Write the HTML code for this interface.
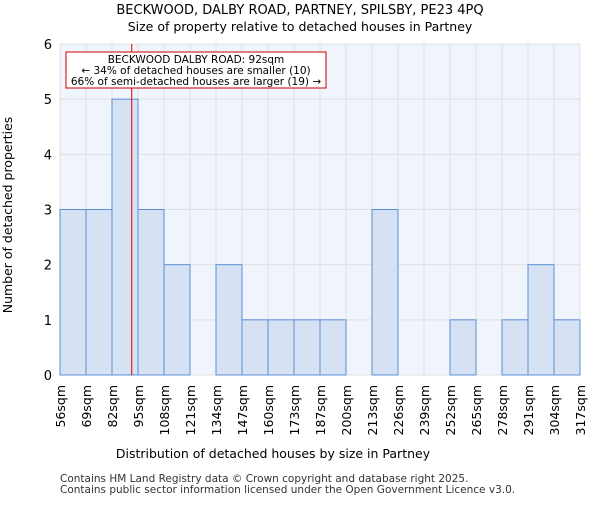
<!DOCTYPE html>
<html><head><meta charset="utf-8"><style>body{margin:0;background:#fff}svg{font-family:"DejaVu Sans","Liberation Sans",sans-serif}</style></head>
<body>
<svg id="c" width="600" height="500" xmlns="http://www.w3.org/2000/svg">
<text x="300" y="14" font-size="13" text-anchor="middle">BECKWOOD, DALBY ROAD, PARTNEY, SPILSBY, PE23 4PQ</text>
<text x="300" y="31" font-size="12.5" text-anchor="middle">Size of property relative to detached houses in Partney</text>
<g id="plot"></g>
<text x="273" y="458" font-size="12.5" text-anchor="middle">Distribution of detached houses by size in Partney</text>
<text transform="translate(12,215) rotate(-90)" font-size="12.5" text-anchor="middle">Number of detached properties</text>
<text x="60" y="482" font-size="10.5" fill="#333">Contains HM Land Registry data © Crown copyright and database right 2025.</text>
<text x="60" y="493" font-size="10.5" fill="#333">Contains public sector information licensed under the Open Government Licence v3.0.</text>
</svg>
<script>
const tickLabels=["56sqm","69sqm","82sqm","95sqm","108sqm","121sqm","134sqm","147sqm","160sqm","173sqm","187sqm","200sqm","213sqm","226sqm","239sqm","252sqm","265sqm","278sqm","291sqm","304sqm","317sqm"];
const counts=[3,3,5,3,2,0,2,1,1,1,1,0,3,0,0,1,0,1,2,1];
const yTicks=[0,1,2,3,4,5,6];
const xMin=56,xMax=317,subject=92;
const L=60,R=580,T=44,B=375,yMax=6;
const ns="http://www.w3.org/2000/svg";
const g=document.getElementById('plot');
function el(t,a){const e=document.createElementNS(ns,t);for(const k in a)e.setAttribute(k,a[k]);g.appendChild(e);return e;}
const n=counts.length,bw=(R-L)/n;
const xi=i=>L+i*bw, xv=v=>L+(v-xMin)/(xMax-xMin)*(R-L), y=v=>B-v/yMax*(B-T);
const bg=el('rect',{x:L,y:T,width:R-L,height:B-T,fill:'#f0f4fc'});


for(const t of yTicks){
 const l=el('line',{x1:L,x2:R,y1:y(t),y2:y(t),stroke:'#e0e0e0'});
 
 
 const tx=el('text',{x:L-8,y:y(t)+5,'font-size':13,'text-anchor':'end'});tx.textContent=t;
 
 
}
for(let i=0;i<=n;i++){
 const l=el('line',{x1:xi(i),x2:xi(i),y1:T,y2:B,stroke:'#e0e0e0'});
 
 
}
counts.forEach((c,i)=>{
 if(c<=0)return;
 const r=el('rect',{x:xi(i),y:y(c),width:bw,height:y(0)-y(c),fill:'#d6e2f3',stroke:'#5b8fd6','stroke-width':1});
 
 
});
tickLabels.forEach((s,i)=>{
 const tx=el('text',{transform:`translate(${xi(i)+5},385) rotate(-90)`,'font-size':12.5,'text-anchor':'end'});tx.textContent=s;
 
 
});
const ml=el('line',{x1:xv(subject),x2:xv(subject),y1:T,y2:B,stroke:'#dd0000','stroke-width':1});


const box=el('rect',{x:66,y:52,width:260,height:36,fill:'#fff',stroke:'#cc0000'});


["BECKWOOD DALBY ROAD: 92sqm","← 34% of detached houses are smaller (10)","66% of semi-detached houses are larger (19) →"].forEach((s,i)=>{
 const tx=el('text',{x:196,y:63+i*11,'font-size':10.5,'text-anchor':'middle'});tx.textContent=s;
 
 
});
</script>
</body></html>
